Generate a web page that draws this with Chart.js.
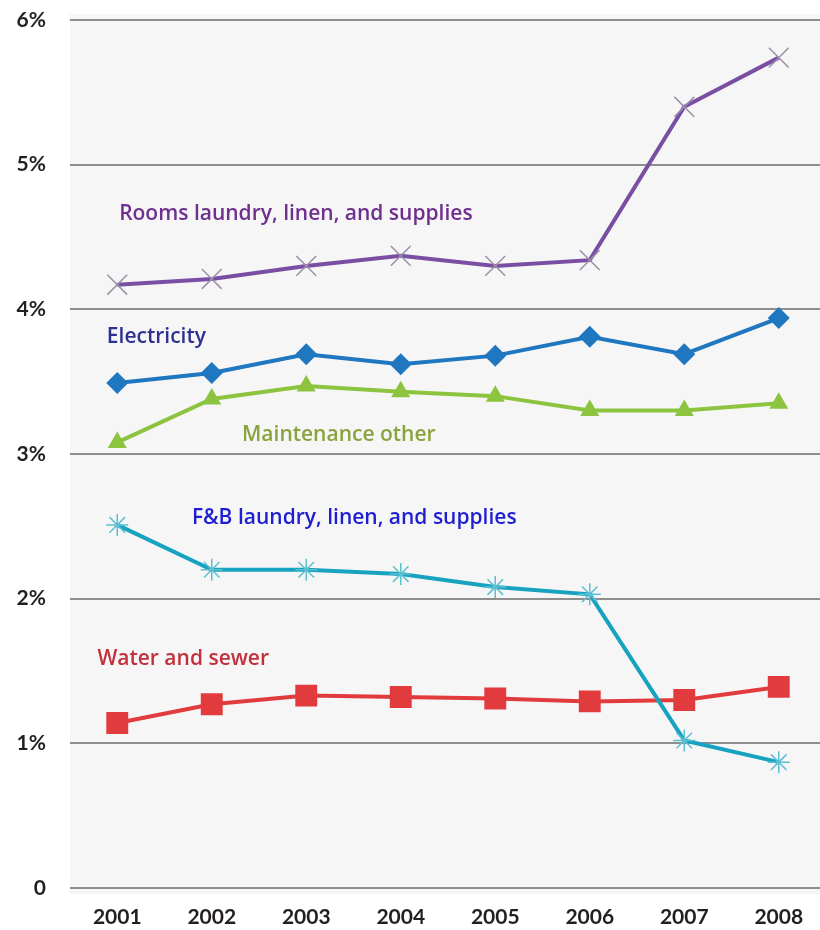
<!DOCTYPE html>
<html>
<head>
<meta charset="utf-8">
<script src="https://cdn.jsdelivr.net/npm/chart.js@4.4.1/dist/chart.umd.min.js"></script>
<style>
    html, body { margin: 0; padding: 0; background: #ffffff; overflow: hidden; }
    #wrap { width: 826px; height: 930px; }
</style>
</head>
<body>
<div id="wrap"><canvas id="costChart"></canvas></div>
<script>
// Years on the x axis
const years = ["2001", "2002", "2003", "2004", "2005", "2006", "2007", "2008"];

// Share of revenue, percent
const roomsLaundry = [4.17, 4.21, 4.30, 4.37, 4.30, 4.34, 5.40, 5.74];
const electricity = [3.49, 3.56, 3.69, 3.62, 3.68, 3.81, 3.69, 3.94];
const maintenanceOther = [3.08, 3.38, 3.47, 3.43, 3.40, 3.30, 3.30, 3.35];
const fbLaundry = [2.51, 2.20, 2.20, 2.17, 2.08, 2.03, 1.02, 0.87];
const waterSewer = [1.14, 1.27, 1.33, 1.32, 1.31, 1.29, 1.30, 1.39];

const yTicks = [0, 1, 2, 3, 4, 5, 6];

// Inline series names, anchored in axis units (category index, percent)
const seriesLabels = [
    { text: "Rooms laundry, linen, and supplies", color: "#6e2f8e", x: 0.02, y: 4.66 },
    { text: "Electricity", color: "#2e3192", x: -0.11, y: 3.81 },
    { text: "Maintenance other", color: "#8aa33c", x: 1.32, y: 3.13 },
    { text: "F&B laundry, linen, and supplies", color: "#1e1ed2", x: 0.79, y: 2.56 },
    { text: "Water and sewer", color: "#c3303c", x: -0.21, y: 1.585 }
];

const TICK_FONT = "Lato, 'Open Sans', sans-serif";
const LABEL_FONT = "'Open Sans', Lato, sans-serif";

const plotBackground = {
    id: "plotBackground",
    beforeDraw(chart) {
        const { ctx, chartArea } = chart;
        ctx.save();
        ctx.fillStyle = "#f6f6f6";
        ctx.fillRect(chartArea.left, chartArea.top - 6, chartArea.right - chartArea.left, chartArea.bottom - chartArea.top + 12);
        ctx.restore();
    }
};

const inlineLabels = {
    id: "inlineLabels",
    afterDatasetsDraw(chart) {
        const { ctx, scales } = chart;
        const step = scales.x.getPixelForValue(1) - scales.x.getPixelForValue(0);
        ctx.save();
        ctx.font = "600 21px " + LABEL_FONT;
        ctx.textAlign = "left";
        ctx.textBaseline = "middle";
        seriesLabels.forEach(lbl => {
            const px = scales.x.getPixelForValue(0) + lbl.x * step;
            const py = scales.y.getPixelForValue(lbl.y);
            ctx.fillStyle = lbl.color;
            ctx.fillText(lbl.text, px, py);
        });
        ctx.restore();
    }
};

function series(data, color, style, radius, markerColor, markerWidth) {
    return {
        data,
        borderColor: color,
        borderWidth: 4,
        backgroundColor: markerColor || color,
        pointStyle: style,
        pointRadius: radius,
        pointBackgroundColor: markerColor || color,
        pointBorderColor: markerColor || color,
        pointBorderWidth: markerWidth || 0,
        tension: 0
    };
}

const ctx = document.getElementById("costChart").getContext("2d");
new Chart(ctx, {
    type: "line",
    data: {
        labels: years,
        datasets: [
            series(roomsLaundry, "#7a4fa3", "crossRot", 14, "#9a90a8", 1.5),
            series(electricity, "#1f77c0", "rectRot", 11),
            series(maintenanceOther, "#8cc43f", "triangle", 11),
            series(fbLaundry, "#17a3c0", "star", 11, "#5cc0d2", 1.5),
            series(waterSewer, "#e23b3d", "rect", 15.5)
        ]
    },
    options: {
        responsive: true,
        maintainAspectRatio: false,
        animation: false,
        layout: { autoPadding: false, padding: { top: 20, right: 0, bottom: 0, left: 0 } },
        plugins: {
            legend: { display: false },
            tooltip: { enabled: false }
        },
        scales: {
            x: {
                type: "category",
                offset: true,
                grid: { display: false, drawTicks: false },
                border: { display: false },
                afterFit: axis => {
                    axis.height = 42;
                    axis.paddingLeft = 0;
                    axis.paddingRight = 0;
                },
                ticks: {
                    color: "#231f20",
                    padding: 17,
                    font: { family: TICK_FONT, size: 21, weight: "bold" }
                }
            },
            y: {
                min: 0,
                max: 6,
                afterBuildTicks: axis => { axis.ticks = yTicks.map(v => ({ value: v })); },
                afterFit: axis => {
                    axis.width = 70;
                    axis.paddingTop = 0;
                    axis.paddingBottom = 0;
                },
                grid: { color: "#8e8e8e", lineWidth: 2, drawTicks: false },
                border: { display: false },
                ticks: {
                    color: "#231f20",
                    padding: 24,
                    font: { family: TICK_FONT, size: 21, weight: "bold" },
                    callback: v => v === 0 ? "0" : v + "%"
                }
            }
        }
    },
    plugins: [plotBackground, inlineLabels]
});
</script>
</body>
</html>
